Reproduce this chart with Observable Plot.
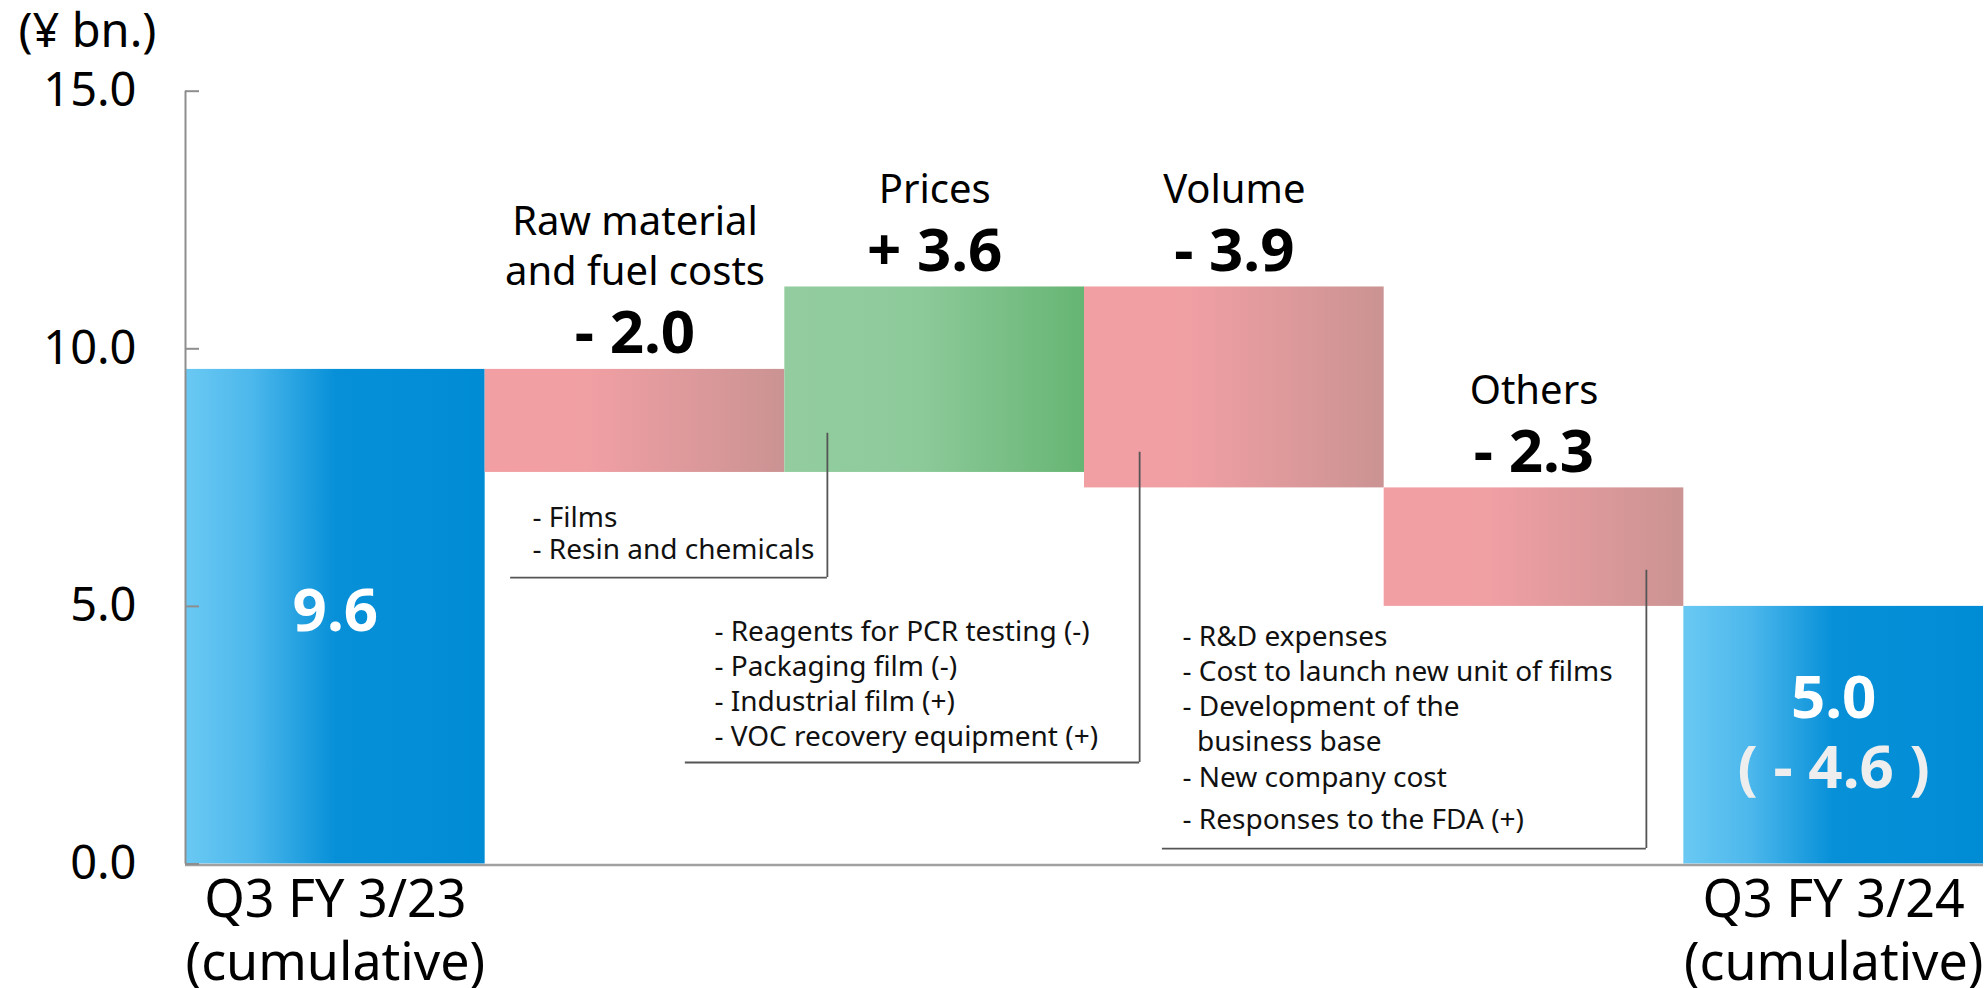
<!DOCTYPE html>
<html>
<head>
<meta charset="utf-8">
<script src="https://cdn.jsdelivr.net/npm/d3@7"></script>
<script src="https://cdn.jsdelivr.net/npm/@observablehq/plot@0.6"></script>
<style>
  html, body { margin: 0; padding: 0; background: #ffffff; }
  #chart { width: 1985px; height: 988px; overflow: hidden; }
</style>
</head>
<body>
<div id="chart"></div>
<script>
// ---- data ----
const categories = ["Q3 FY 3/23", "Raw material and fuel costs", "Prices", "Volume", "Others", "Q3 FY 3/24"];
const values = [9.6, -2.0, 3.6, -3.9, -2.3, 5.0];
const kinds = ["total", "delta", "delta", "delta", "delta", "total"];
const valueLabels = ["9.6", "- 2.0", "+ 3.6", "- 3.9", "- 2.3", "5.0"];
const changeLabels = ["", "", "", "", "", "( - 4.6 )"];
const axisLabels = ["Q3 FY 3/23\n(cumulative)", "", "", "", "", "Q3 FY 3/24\n(cumulative)"];
const deltaNames = ["", "Raw material\nand fuel costs", "Prices", "Volume", "Others", ""];
const yTicks = [0, 5, 10, 15];
const unitLabel = "(¥ bn.)";
const calloutFilms = ["- Films", "- Resin and chemicals"];
const calloutVolume = ["- Reagents for PCR testing (-)", "- Packaging film (-)", "- Industrial film (+)", "- VOC recovery equipment (+)"];
const calloutOthers = ["- R&D expenses", "- Cost to launch new unit of films", "- Development of the", "\u00a0\u00a0business base", "- New company cost", "- Responses to the FDA (+)"];

// ---- layout (annotation anchors in data units, spacing in px) ----
const W = 1985, H = 988;
const M = {top: 90.7, bottom: 124.5, left: 185, right: 2};
const pxPerUnit = (H - M.top - M.bottom) / 15;
const calloutLayout = [
  {lines: calloutFilms, stemX: 2.142, stemTop: 8.36, baseY: 5.56, baseX: 1.085, textX: 1.158, firstLine: 6.55, linePx: 32.5, extra: {}},
  {lines: calloutVolume, stemX: 3.184, stemTop: 7.99, baseY: 1.97, baseX: 1.668, textX: 1.765, firstLine: 4.338, linePx: 35, extra: {}},
  {lines: calloutOthers, stemX: 4.875, stemTop: 5.70, baseY: 0.30, baseX: 3.260, textX: 3.327, firstLine: 4.241, linePx: 35.25, extra: {5: 7}}
];

// ---- waterfall rows ----
let run = 0;
const rows = categories.map((c, i) => {
  let y1, y2;
  if (kinds[i] === "total") { y1 = 0; y2 = values[i]; run = values[i]; }
  else { y1 = run; y2 = run + values[i]; run = y2; }
  return {i, name: c, kind: kinds[i], value: values[i], y1, y2,
          lo: Math.min(y1, y2), hi: Math.max(y1, y2),
          sign: kinds[i] === "total" ? "total" : (values[i] >= 0 ? "up" : "down"),
          label: valueLabels[i], change: changeLabels[i], axis: axisLabels[i], dname: deltaNames[i]};
});
const totals = rows.filter(d => d.kind === "total");
const deltas = rows.filter(d => d.kind === "delta");

const calloutTextRows = calloutLayout.flatMap(c => {
  let off = 0;
  return c.lines.map((t, k) => {
    if (k > 0) off += c.linePx + (c.extra[k] || 0);
    return {x: c.textX, y: c.firstLine - off / pxPerUnit, t};
  });
});

// gradients
function defs() {
  const d = d3.create("svg:defs");
  const grads = [
    {id: "gBlue", stops: [[0, "#6ac9f3"], [0.22, "#4db8ec"], [0.5, "#0790d8"], [1, "#008cd5"]]},
    {id: "gRed", stops: [[0, "#f29fa4"], [0.35, "#f09fa3"], [1, "#cb9393"]]},
    {id: "gGreen", stops: [[0, "#93cd9f"], [0.45, "#8dca9a"], [1, "#66b573"]]}
  ];
  for (const g of grads) {
    const lg = d.append("linearGradient").attr("id", g.id).attr("x1", "0%").attr("x2", "100%").attr("y1", "0%").attr("y2", "0%");
    for (const [o, c] of g.stops) lg.append("stop").attr("offset", o).attr("stop-color", c);
  }
  return d.node();
}

const font = "'Noto Sans', sans-serif";
const lineColor = "#555555";
const axisColor = "#8e8e8e";

const chart = Plot.plot({
  width: W, height: H,
  marginTop: M.top, marginBottom: M.bottom, marginLeft: M.left, marginRight: M.right,
  x: {domain: [0, 6], axis: null},
  y: {domain: [0, 15]},
  style: {fontFamily: font, background: "#ffffff", color: "#000000", overflow: "visible"},
  marks: [
    defs,
    // bars
    Plot.rectY(rows.filter(d => d.sign === "total"), {x1: "i", x2: d => d.i + 1, y1: "lo", y2: "hi", fill: "url(#gBlue)"}),
    Plot.rectY(rows.filter(d => d.sign === "down"), {x1: "i", x2: d => d.i + 1, y1: "lo", y2: "hi", fill: "url(#gRed)"}),
    Plot.rectY(rows.filter(d => d.sign === "up"), {x1: "i", x2: d => d.i + 1, y1: "lo", y2: "hi", fill: "url(#gGreen)"}),
    // baseline and y-axis line
    Plot.ruleY([0], {x1: 0, x2: 6, stroke: "#a0a0a0", strokeWidth: 2.5, dy: 1}),
    Plot.ruleX([0], {y1: 0, y2: 15, stroke: axisColor, strokeWidth: 2}),
    Plot.axisY(yTicks, {tickFormat: d => d.toFixed(1), tickSize: -14, tickPadding: 63, fontSize: 47, stroke: axisColor, strokeWidth: 2, fill: "#000000", label: null}),
    // unit label
    Plot.text([unitLabel], {frameAnchor: "top-left", text: d => d, dx: -167, dy: -44, lineAnchor: "bottom", textAnchor: "start", fontSize: 47, fill: "#000"}),
    // callouts
    Plot.ruleX(calloutLayout, {x: "stemX", y1: "stemTop", y2: "baseY", stroke: lineColor, strokeWidth: 1.8}),
    Plot.ruleY(calloutLayout, {y: "baseY", x1: "baseX", x2: "stemX", stroke: lineColor, strokeWidth: 1.8}),
    Plot.text(calloutTextRows, {x: "x", y: "y", text: "t", textAnchor: "start", lineAnchor: "bottom", fontSize: 28, fill: "#111"}),
    // delta labels
    Plot.text(deltas, {x: d => d.i + 0.5, y: "hi", text: "label", lineAnchor: "bottom", dy: -16, fontSize: 60, fontWeight: "bold", fill: "#000"}),
    Plot.text(deltas, {x: d => d.i + 0.5, y: "hi", text: "dname", lineAnchor: "bottom", dy: -84, fontSize: 40, lineHeight: 1.25, fill: "#000"}),
    // total labels
    Plot.text(totals.filter(d => !d.change), {x: d => d.i + 0.5, y: d => d.value / 2, text: "label", lineAnchor: "bottom", dy: 14, fontSize: 60, fontWeight: "bold", fill: "#ffffff"}),
    Plot.text(totals.filter(d => d.change), {x: d => d.i + 0.5, y: d => d.value / 2, text: "label", lineAnchor: "bottom", dy: -17, fontSize: 60, fontWeight: "bold", fill: "#ffffff"}),
    Plot.text(totals.filter(d => d.change), {x: d => d.i + 0.5, y: d => d.value / 2, text: "change", lineAnchor: "bottom", dy: 53, fontSize: 60, fontWeight: "bold", fill: "#eeeeee"}),
    // category labels
    Plot.text(totals, {x: d => d.i + 0.5, y: 0, text: "axis", lineAnchor: "bottom", dy: 116, fontSize: 52, lineHeight: 1.21, fill: "#000"})
  ]
});
document.getElementById("chart").appendChild(chart);
</script>
</body>
</html>
